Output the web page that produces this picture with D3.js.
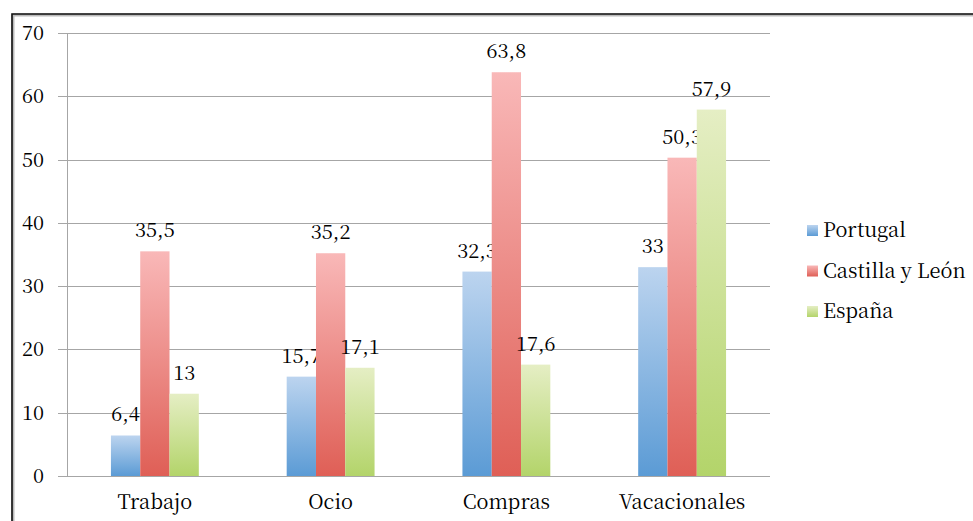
<!DOCTYPE html>
<html><head><meta charset="utf-8">
<script src="https://cdn.jsdelivr.net/npm/d3@7"></script>
<style>body{margin:0;background:#fff}svg{display:block}</style>
</head><body>
<script>
const categories = ["Trabajo","Ocio","Compras","Vacacionales"];
const seriesNames = ["Portugal","Castilla y León","España"];
const portugal = [6.4,15.7,32.3,33];
const castilla = [35.5,35.2,63.8,50.3];
const espana = [13,17.1,17.6,57.9];
const labels = ["6,4","15,7","32,3","33","35,5","35,2","63,8","50,3","13","17,1","17,6","57,9"];
const yTicks = [0,10,20,30,40,50,60,70];

const series = [portugal,castilla,espana];
const grads = [["#bcd4ef","#5b9bd5"],["#f9b8b8","#df5f56"],["#e5eec4","#b3d46a"]];
const W=973,H=521, FS=20, FF="Noto Serif CJK SC";
const svg=d3.select("body").append("svg").attr("width",W).attr("height",H)
  .attr("font-family",FF).attr("fill","#000");
const defs=svg.append("defs");
grads.forEach((g,i)=>{
  const lg=defs.append("linearGradient").attr("id","g"+i).attr("x1",0).attr("y1",0).attr("x2",0).attr("y2",1);
  lg.append("stop").attr("offset","0%").attr("stop-color",g[0]);
  lg.append("stop").attr("offset","100%").attr("stop-color",g[1]);
});
svg.append("path").attr("d","M12,"+H+" V14 H"+W).attr("fill","none").attr("stroke","#bbb").attr("stroke-width",3).attr("transform","translate(1,1)");
svg.append("path").attr("d","M12,"+H+" V14 H"+W).attr("fill","none").attr("stroke","#111").attr("stroke-width",1.6);

const x0=67,x1=770,yTop=33,yBot=476;
const x=d3.scaleBand().domain(categories).range([x0,x1]);
const y=d3.scaleLinear().domain([0,70]).range([yBot,yTop]);
const xs=d3.scaleBand().domain(d3.range(3)).range([0,x.bandwidth()*0.5]);
const off=x.bandwidth()*0.25;

const gy=svg.append("g");
gy.selectAll("line").data(yTicks).join("line")
 .attr("x1",58).attr("x2",x1).attr("y1",d=>Math.round(y(d))+0.5).attr("y2",d=>Math.round(y(d))+0.5)
 .attr("stroke","#a6a6a6").attr("stroke-width",1);
gy.selectAll("text").data(yTicks).join("text")
 .attr("x",44).attr("y",d=>y(d)+7).attr("text-anchor","end").attr("font-size",FS).text(d=>d);
svg.append("line").attr("x1",x0+0.5).attr("x2",x0+0.5).attr("y1",yTop).attr("y2",yBot).attr("stroke","#a6a6a6");

series.forEach((s,i)=>{
  svg.append("g").selectAll("rect").data(s).join("rect")
   .attr("x",(d,j)=>x(categories[j])+off+xs(i)).attr("width",xs.bandwidth())
   .attr("y",d=>y(d)).attr("height",d=>yBot-y(d)).attr("fill","url(#g"+i+")");
  svg.append("g").selectAll("text").data(s).join("text")
   .attr("x",(d,j)=>x(categories[j])+off+xs(i)+xs.bandwidth()/2)
   .attr("y",d=>y(d)-14).attr("text-anchor","middle").attr("font-size",FS)
   .text((d,j)=>labels[i*4+j]);
});
svg.append("g").selectAll("text").data(categories).join("text")
 .attr("x",d=>x(d)+x.bandwidth()/2).attr("y",509).attr("text-anchor","middle").attr("font-size",FS).text(d=>d);

const leg=svg.append("g");
seriesNames.forEach((n,i)=>{
  const yy=230+i*40.5;
  leg.append("rect").attr("x",807).attr("y",yy-5).attr("width",11).attr("height",11).attr("fill","url(#g"+i+")");
  leg.append("text").attr("x",823).attr("y",yy+7).attr("font-size",FS).text(n);
});
</script>
</body></html>
